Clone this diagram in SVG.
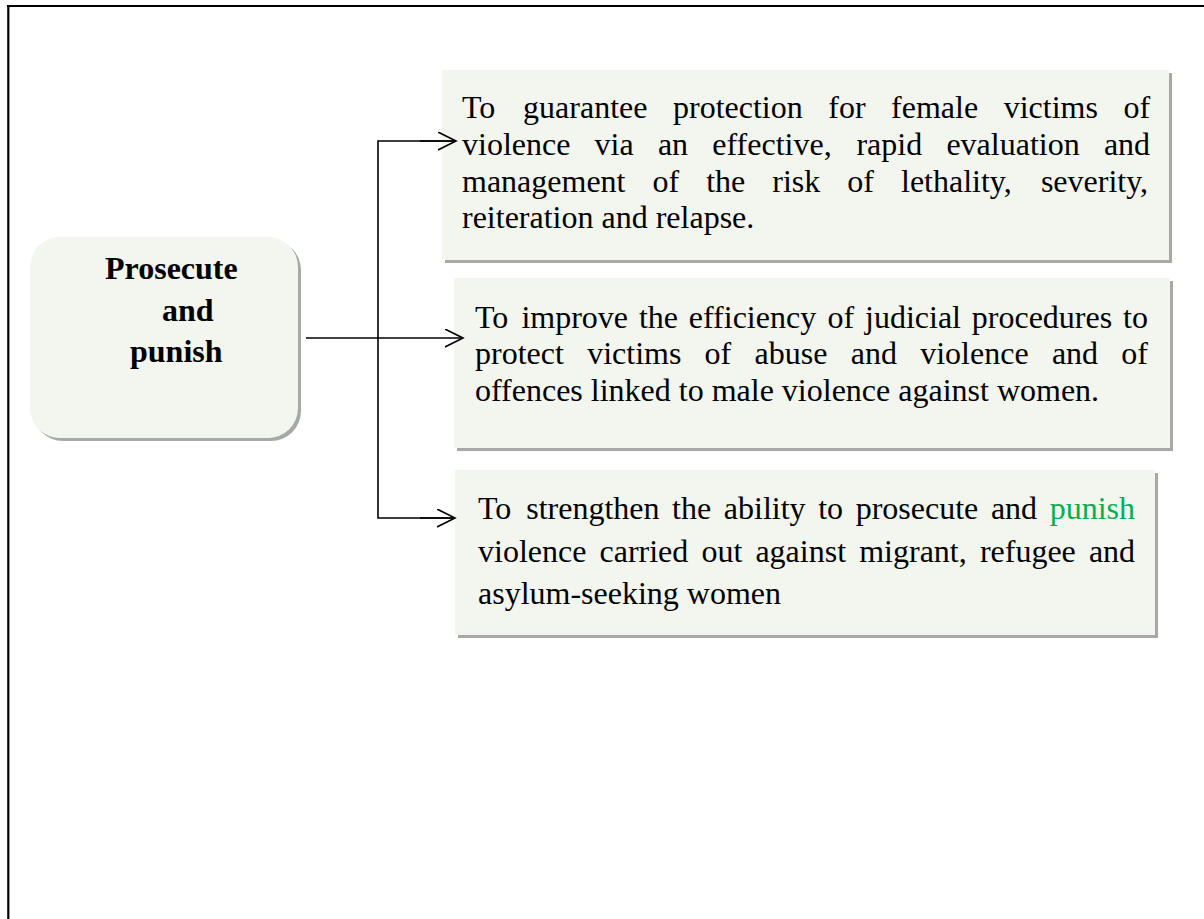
<svg xmlns="http://www.w3.org/2000/svg" width="1204" height="919" viewBox="0 0 1204 919">
<style>
.t{font-family:"Liberation Serif","Times New Roman",serif;font-size:32px;fill:#000}
.b{font-weight:bold}
.box{fill:#F3F5EF}
.sh{fill:#A8A8A6}
.ln{stroke:#000;stroke-width:1.6;fill:none}
.g{fill:#00B050}
</style>
<defs>
<marker id="ah" markerWidth="20" markerHeight="20" refX="18" refY="9" orient="auto" markerUnits="userSpaceOnUse">
<path d="M0,0 L18,9 L0,18" fill="none" stroke="#000" stroke-width="1.6"/>
</marker>
</defs>
<rect width="1204" height="919" fill="#fff"/>
<g id="frame">
<line x1="7" y1="6" x2="1204" y2="6" stroke="#000" stroke-width="2"/>
<line x1="8.3" y1="5" x2="8.3" y2="919" stroke="#000" stroke-width="2.2"/>
</g>
<g id="node-main">
<rect class="sh" x="33" y="240" width="268" height="201" rx="30"/>
<rect class="box" x="30" y="237" width="268" height="201" rx="30"/>
<text class="t b" x="105" y="279">Prosecute</text>
<text class="t b" x="162" y="321">and</text>
<text class="t b" x="130" y="362">punish</text>
</g>
<g id="node-1">
<rect class="sh" x="445" y="73" width="727" height="190"/>
<rect class="box" x="442" y="70" width="727" height="190"/>
<text class="t" y="118"><tspan x="462">To</tspan><tspan x="523.1">guarantee</tspan><tspan x="673">protection</tspan><tspan x="828.3">for</tspan><tspan x="891.1">female</tspan><tspan x="1003.7">victims</tspan><tspan x="1123.4">of</tspan></text>
<text class="t" y="155"><tspan x="462">violence</tspan><tspan x="594.6">via</tspan><tspan x="657.9">an</tspan><tspan x="712.3">effective,</tspan><tspan x="856.4">rapid</tspan><tspan x="946.4">evaluation</tspan><tspan x="1103.9">and</tspan></text>
<text class="t" y="192"><tspan x="462">management</tspan><tspan x="652.5">of</tspan><tspan x="706.2">the</tspan><tspan x="772.3">risk</tspan><tspan x="847.3">of</tspan><tspan x="901">lethality,</tspan><tspan x="1040.9">severity,</tspan></text>
<text class="t" x="462" y="228">reiteration and relapse.</text>
</g>
<g id="node-2">
<rect class="sh" x="457" y="281" width="716" height="170"/>
<rect class="box" x="454" y="278" width="716" height="170"/>
<text class="t" y="327.5"><tspan x="475">To</tspan><tspan x="521.4">improve</tspan><tspan x="638.9">the</tspan><tspan x="688.8">efficiency</tspan><tspan x="827.5">of</tspan><tspan x="865">judicial</tspan><tspan x="971.8">procedures</tspan><tspan x="1123">to</tspan></text>
<text class="t" y="364.2"><tspan x="475">protect</tspan><tspan x="587.2">victims</tspan><tspan x="704.6">of</tspan><tspan x="754.6">abuse</tspan><tspan x="850.8">and</tspan><tspan x="920.2">violence</tspan><tspan x="1051.9">and</tspan><tspan x="1121.3">of</tspan></text>
<text class="t" x="475" y="400.9">offences linked to male violence against women.</text>
</g>
<g id="node-3">
<rect class="sh" x="458" y="473" width="700" height="165"/>
<rect class="box" x="455" y="470" width="700" height="165"/>
<text class="t" y="519"><tspan x="478">To</tspan><tspan x="526.2">strengthen</tspan><tspan x="672.1">the</tspan><tspan x="723.8">ability</tspan><tspan x="818.2">to</tspan><tspan x="855.7">prosecute</tspan><tspan x="990.9">and</tspan><tspan x="1049.7" class="g">punish</tspan></text>
<text class="t" y="561.5"><tspan x="478">violence</tspan><tspan x="599.5">carried</tspan><tspan x="701.4">out</tspan><tspan x="755.4">against</tspan><tspan x="859.2">migrant,</tspan><tspan x="979.9">refugee</tspan><tspan x="1088.9">and</tspan></text>
<text class="t" x="478" y="604">asylum-seeking women</text>
</g>
<g id="connectors">
<line class="ln" x1="306" y1="338" x2="463" y2="338" marker-end="url(#ah)"/>
<polyline class="ln" points="456,141 378,141 378,518 455,518"/>
<line class="ln" x1="420" y1="141" x2="456" y2="141" marker-end="url(#ah)"/>
<line class="ln" x1="420" y1="518" x2="455" y2="518" marker-end="url(#ah)"/>
</g>
</svg>
